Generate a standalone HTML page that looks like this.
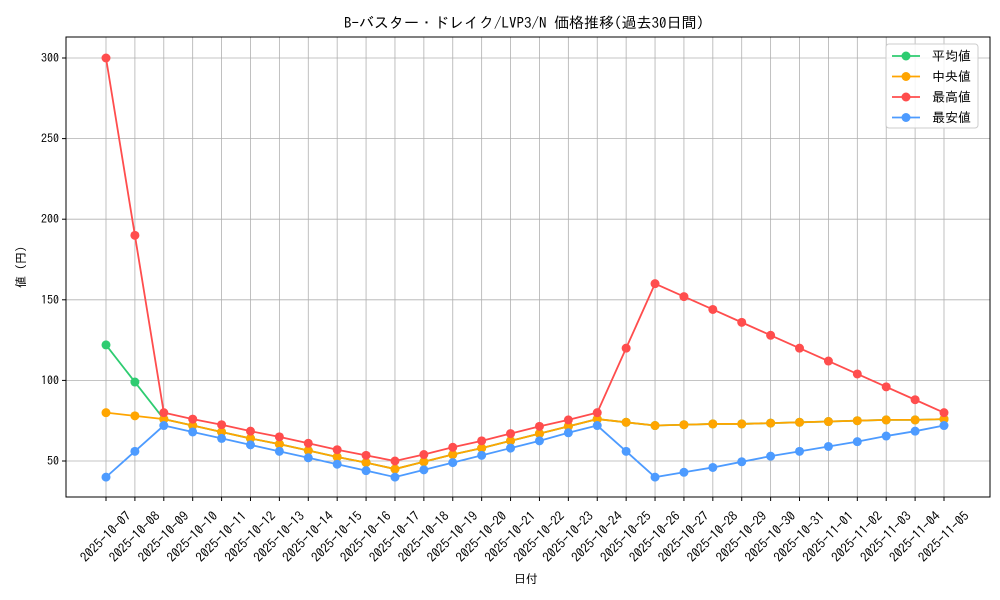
<!DOCTYPE html>
<html><head><meta charset="utf-8"><style>
body{margin:0;background:#fff}
svg{display:block;font-family:"IPAGothic","Noto Sans CJK JP",sans-serif}
</style></head><body>
<svg id="c" width="1000" height="600"></svg>
<script>
const dates=["2025-10-07","2025-10-08","2025-10-09","2025-10-10","2025-10-11","2025-10-12","2025-10-13","2025-10-14","2025-10-15","2025-10-16","2025-10-17","2025-10-18","2025-10-19","2025-10-20","2025-10-21","2025-10-22","2025-10-23","2025-10-24","2025-10-25","2025-10-26","2025-10-27","2025-10-28","2025-10-29","2025-10-30","2025-10-31","2025-11-01","2025-11-02","2025-11-03","2025-11-04","2025-11-05"];
const meanVals=[122,99,76,72,68,64,60.5,56.5,52.5,49,45,49.5,54,58,62.5,67,71.5,76,74,72,72.5,73,73,73.5,74,74.5,75,75.5,75.5,76];
const medianVals=[80,78,76,72,68,64,60.5,56.5,52.5,49,45,49.5,54,58,62.5,67,71.5,76,74,72,72.5,73,73,73.5,74,74.5,75,75.5,75.5,76];
const maxVals=[300,190,80,76,72.5,68.5,65,61,57,53.5,50,54,58.5,62.5,67,71.5,75.5,80,120,160,152,144,136,128,120,112,104,96,88,80];
const minVals=[40,56,72,68,64,60,56,52,48,44,40,44.5,49,53.5,58,62.5,67.5,72,56,40,43,46,49.5,53,56,59,62,65.5,68.5,72];
const yTicks=[50,100,150,200,250,300];
const NS="http://www.w3.org/2000/svg",svg=document.getElementById('c');
const L=66,R=990,T=37,B=497;
const X=i=>106+i*(944-106)/(dates.length-1);
const Y=v=>461-(v-50)*403/250;
function mk(t,a,p){const e=document.createElementNS(NS,t);for(const k in a)e.setAttribute(k,a[k]);(p||svg).appendChild(e);return e;}
dates.forEach((d,i)=>{const g=mk('line',{x1:X(i),x2:X(i),y1:T,y2:B,stroke:'#b0b0b0','stroke-width':0.8});

mk('line',{x1:X(i),x2:X(i),y1:B,y2:B+4,stroke:'#000'});
const t=mk('text',{x:0,y:4,'font-size':13,'text-anchor':'middle',transform:`translate(${X(i)},537) rotate(-45)`});t.textContent=d;
});
yTicks.forEach(v=>{const g=mk('line',{x1:L,x2:R,y1:Y(v),y2:Y(v),stroke:'#b0b0b0','stroke-width':0.8});

mk('line',{x1:L-4,x2:L,y1:Y(v),y2:Y(v),stroke:'#000'});
const t=mk('text',{x:L-7,y:Y(v)+4,'font-size':12,'text-anchor':'end'});t.textContent=v;
});
const fr=mk('rect',{x:L,y:T,width:R-L,height:B-T,fill:'none',stroke:'#000','stroke-width':1});

const series=[[meanVals,'#2ecc71','mean-series'],[medianVals,'#ffa500','median-series'],[maxVals,'#ff4d4d','max-series'],[minVals,'#4d9bff','min-series']];
series.forEach(([vals,col,name])=>{const g=mk('g',{});
mk('polyline',{points:vals.map((v,i)=>X(i)+','+Y(v)).join(' '),fill:'none',stroke:col,'stroke-width':1.8},g);
vals.forEach((v,i)=>{const c=mk('circle',{cx:X(i),cy:Y(v),r:4.5,fill:col},g);});});
let t=mk('text',{x:524,y:28,'font-size':15,'text-anchor':'middle'});t.textContent='B-バスター・ドレイク/LVP3/N 価格推移(過去30日間)';
t=mk('text',{x:526,y:583,'font-size':12,'text-anchor':'middle'});t.textContent='日付';
t=mk('text',{x:0,y:0,'font-size':12,'text-anchor':'middle',transform:'translate(25,267) rotate(-90)'});t.textContent='値 (円)';
const lg=mk('g',{});
mk('rect',{x:886,y:44,width:92,height:84,rx:3,fill:'#fff','fill-opacity':0.85,stroke:'#ccc'},lg);
const labels=['平均値','中央値','最高値','最安値'];
series.forEach(([v,col],i)=>{const y=56+i*20.5;const e=mk('g',{},lg);
mk('line',{x1:892,x2:920,y1:y,y2:y,stroke:col,'stroke-width':1.8},e);mk('circle',{cx:906,cy:y,r:4.5,fill:col},e);
const tt=mk('text',{x:932,y:y+4.5,'font-size':13},e);tt.textContent=labels[i];});
</script>
</body></html>
